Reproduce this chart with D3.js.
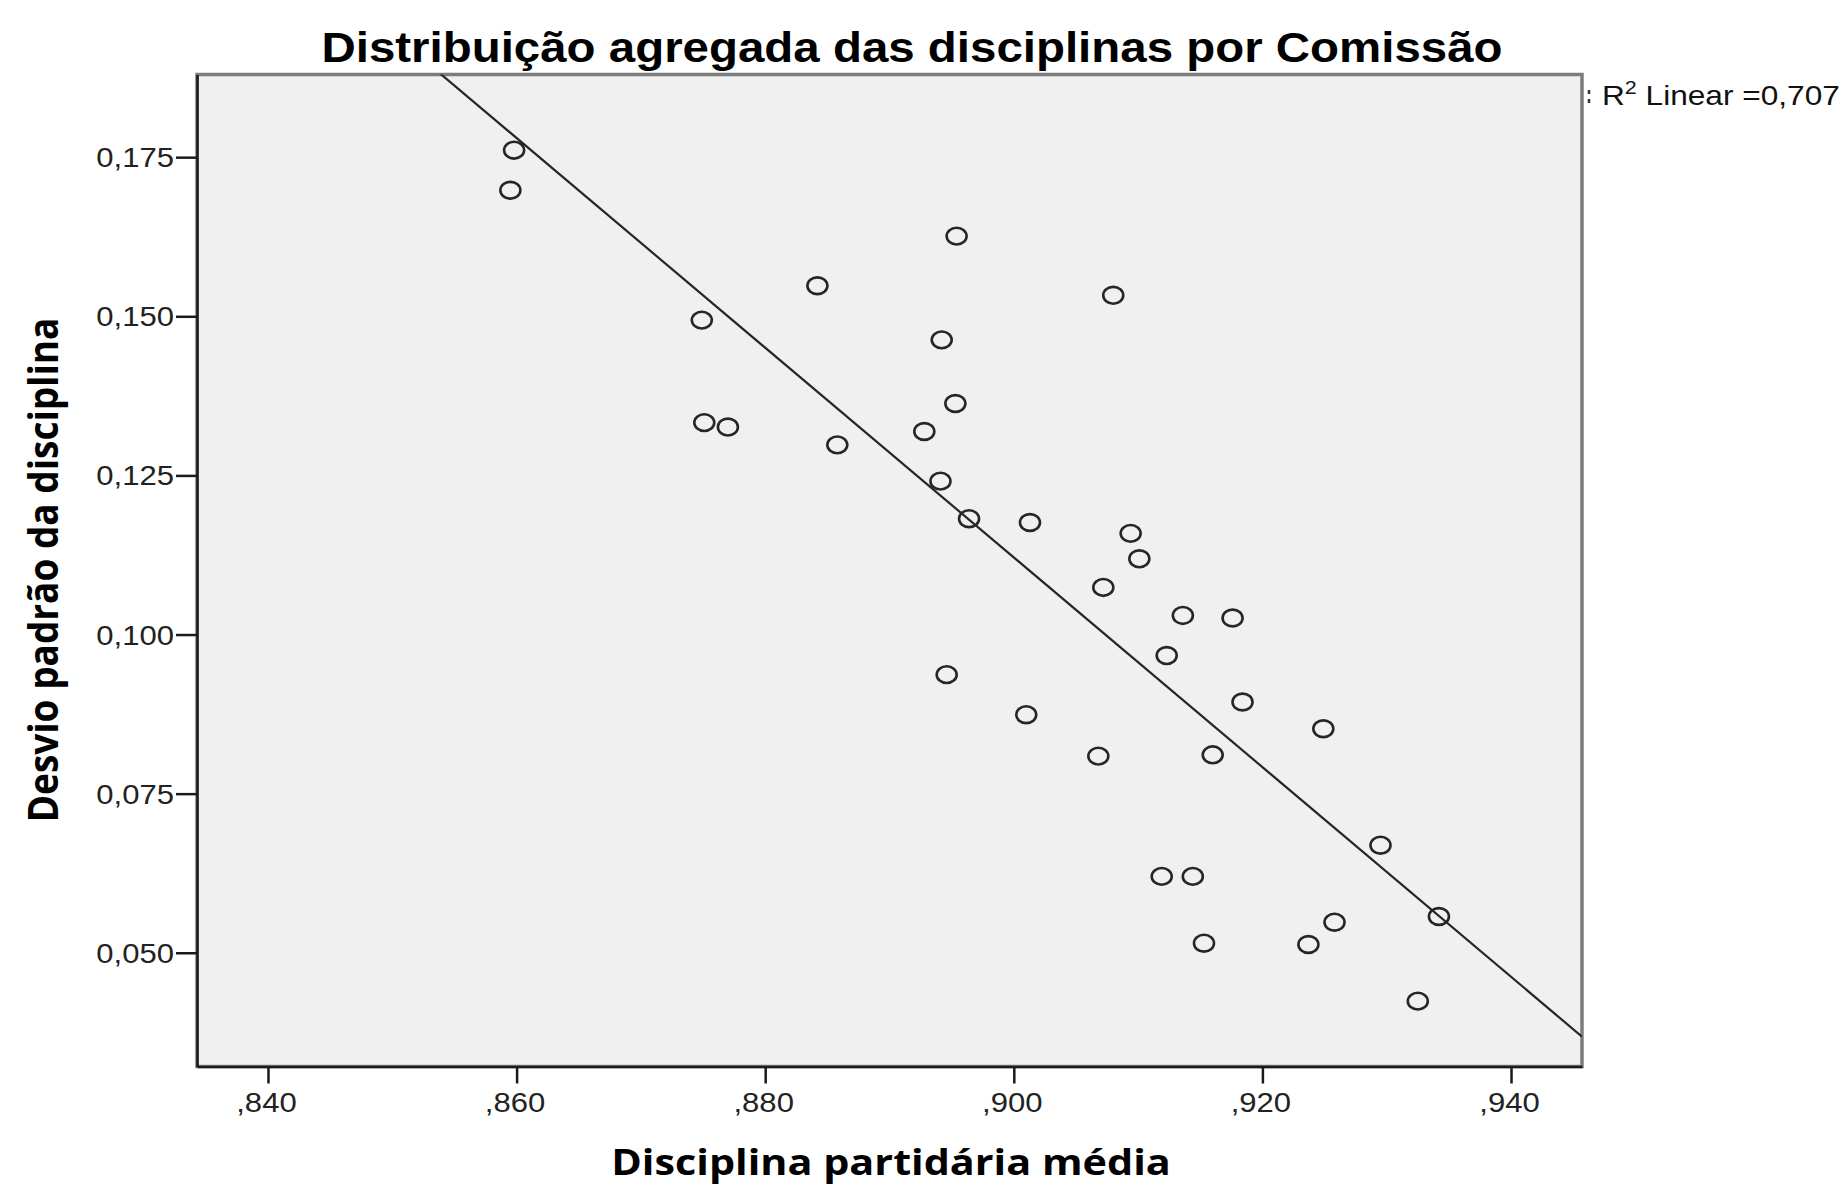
<!DOCTYPE html>
<html>
<head>
<meta charset="utf-8">
<script src="https://cdn.jsdelivr.net/npm/d3@7"></script>
<style>
  html, body { margin: 0; padding: 0; background: #ffffff; }
  svg { display: block; }
</style>
</head>
<body>
<svg id="chart" width="1847" height="1185"></svg>
<script>
// ---------------- data ----------------
const titleText = "Distribuição agregada das disciplinas por Comissão";
const xAxisTitle = "Disciplina partidária média";
const yAxisTitle = "Desvio padrão da disciplina";
const legendLabel = "Linear =0,707";

const xTickValues = [0.84, 0.86, 0.88, 0.90, 0.92, 0.94];
const yTickValues = [0.050, 0.075, 0.100, 0.125, 0.150, 0.175];

// Disciplina partidária média (x) per commission
const xValues = [
  0.8598, 0.8595, 0.8954, 0.8842, 0.9080, 0.8749, 0.8942, 0.8953, 0.8751,
  0.8770, 0.8928, 0.8858, 0.8941, 0.8964, 0.9013, 0.9094, 0.9101, 0.9072,
  0.9136, 0.9176, 0.9123, 0.8946, 0.9184, 0.9010, 0.9249, 0.9160, 0.9068,
  0.9295, 0.9119, 0.9144, 0.9342, 0.9258, 0.9153, 0.9237, 0.9325
];
// Desvio padrão da disciplina (y) per commission
const yValues = [
  0.1761, 0.1698, 0.1626, 0.1548, 0.1533, 0.1494, 0.1463, 0.1363, 0.1333,
  0.1326, 0.1319, 0.1298, 0.1241, 0.1182, 0.1176, 0.1159, 0.1119, 0.1074,
  0.1030, 0.1026, 0.0967, 0.0937, 0.0894, 0.0874, 0.0852, 0.0811, 0.0809,
  0.0669, 0.0620, 0.0620, 0.0557, 0.0548, 0.0515, 0.0513, 0.0424
];

// ---------------- layout ----------------
const SX = 1.13; // horizontal stretch of the original rendering
const plot = { left: 197, right: 1582, top: 74.5, bottom: 1066.5 };
const svg = d3.select("#chart");

const x = d3.scaleLinear().domain([0.83429, 0.94571]).range([plot.left, plot.right]);
const y = d3.scaleLinear().domain([0.03213, 0.18799]).range([plot.bottom, plot.top]);

const locale = d3.formatLocale({ decimal: ",", thousands: ".", grouping: [3], currency: ["", ""] });
const f3 = locale.format(".3f");

const sansA = "'Liberation Sans', Arial, sans-serif";
const sansB = "'Open Sans', 'Noto Sans', sans-serif";

// plot background + frame
svg.append("rect")
  .attr("x", plot.left).attr("y", plot.top)
  .attr("width", plot.right - plot.left).attr("height", plot.bottom - plot.top)
  .attr("fill", "#f0f0f0")
  .attr("stroke", "#7d7d7d").attr("stroke-width", 3.5);

svg.append("clipPath").attr("id", "clip")
  .append("rect")
  .attr("x", plot.left).attr("y", plot.top)
  .attr("width", plot.right - plot.left).attr("height", plot.bottom - plot.top);

// regression line (least squares on the data)
const n = xValues.length;
const mx = d3.mean(xValues), my = d3.mean(yValues);
let sxy = 0, sxx = 0;
for (let i = 0; i < n; i++) {
  sxy += (xValues[i] - mx) * (yValues[i] - my);
  sxx += (xValues[i] - mx) * (xValues[i] - mx);
}
const slope = sxy / sxx;
const intercept = my - slope * mx;
const [dx0, dx1] = x.domain();
svg.append("line")
  .attr("clip-path", "url(#clip)")
  .attr("x1", x(dx0)).attr("y1", y(intercept + slope * dx0))
  .attr("x2", x(dx1)).attr("y2", y(intercept + slope * dx1))
  .attr("stroke", "#262626").attr("stroke-width", 2.2);

// points (open circles)
const pts = d3.range(n).map(i => ({ x: xValues[i], y: yValues[i] }));
svg.append("g").selectAll("ellipse").data(pts).join("ellipse")
  .attr("cx", d => x(d.x)).attr("cy", d => y(d.y))
  .attr("rx", 10).attr("ry", 8.4)
  .attr("fill", "none").attr("stroke", "#262626").attr("stroke-width", 2.6);

// y axis
const yAxis = svg.append("g")
  .attr("transform", `translate(${plot.left},0)`)
  .call(d3.axisLeft(y).tickValues(yTickValues).tickFormat(f3).tickSize(21).tickSizeOuter(0).tickPadding(2));
yAxis.select(".domain").attr("stroke", "#1a1a1a").attr("stroke-width", 2.5);
yAxis.selectAll(".tick line").attr("stroke", "#1a1a1a").attr("stroke-width", 2.5);
yAxis.selectAll(".tick text")
  .attr("x", null).attr("dy", null)
  .attr("transform", `translate(-23,9.5) scale(${SX},1)`)
  .attr("font-family", sansA).attr("font-size", 27.5).attr("fill", "#222")
  .attr("text-anchor", "end");

// x axis
const xAxis = svg.append("g")
  .attr("transform", `translate(0,${plot.bottom})`)
  .call(d3.axisBottom(x).tickValues(xTickValues)
    .tickFormat(d => f3(d).replace(/^0/, "")).tickSize(17).tickSizeOuter(0));
xAxis.select(".domain").attr("stroke", "#1a1a1a").attr("stroke-width", 2.5);
xAxis.selectAll(".tick line").attr("stroke", "#1a1a1a").attr("stroke-width", 2.5);
xAxis.selectAll(".tick text")
  .attr("y", null).attr("dy", null)
  .attr("transform", `translate(-2,45.5) scale(${SX},1)`)
  .attr("font-family", sansA).attr("font-size", 27.5).attr("fill", "#222")
  .attr("text-anchor", "middle");

// title
svg.append("text")
  .attr("transform", `translate(912,61.5) scale(${SX},1)`)
  .attr("text-anchor", "middle")
  .attr("font-family", sansA).attr("font-weight", "bold").attr("font-size", 42)
  .attr("fill", "#000")
  .text(titleText);

// x axis title
svg.append("text")
  .attr("transform", `translate(891,1175) scale(${SX},1)`)
  .attr("text-anchor", "middle")
  .attr("font-family", sansB).attr("font-weight", "bold").attr("font-size", 36.6)
  .attr("fill", "#000")
  .text(xAxisTitle);

// y axis title
svg.append("text")
  .attr("transform", `translate(58,570) scale(${SX},1) rotate(-90)`)
  .attr("text-anchor", "middle")
  .attr("font-family", sansB).attr("font-weight", "bold").attr("font-size", 37)
  .attr("fill", "#000")
  .text(yAxisTitle);

// legend (clipped line symbol + label)
const lg = svg.append("g");
lg.append("line")
  .attr("x1", 1589).attr("x2", 1589).attr("y1", 90).attr("y2", 106)
  .attr("stroke", "#333").attr("stroke-width", 2.5).attr("stroke-dasharray", "4,5");
const lt = lg.append("text")
  .attr("transform", `translate(1602,105) scale(${SX},1)`)
  .attr("font-family", sansA).attr("font-size", 28).attr("fill", "#111");
lt.append("tspan").text("R");
lt.append("tspan").attr("dy", -11).attr("font-size", 19).text("2");
lt.append("tspan").attr("dy", 11).text(" " + legendLabel);
</script>
</body>
</html>
